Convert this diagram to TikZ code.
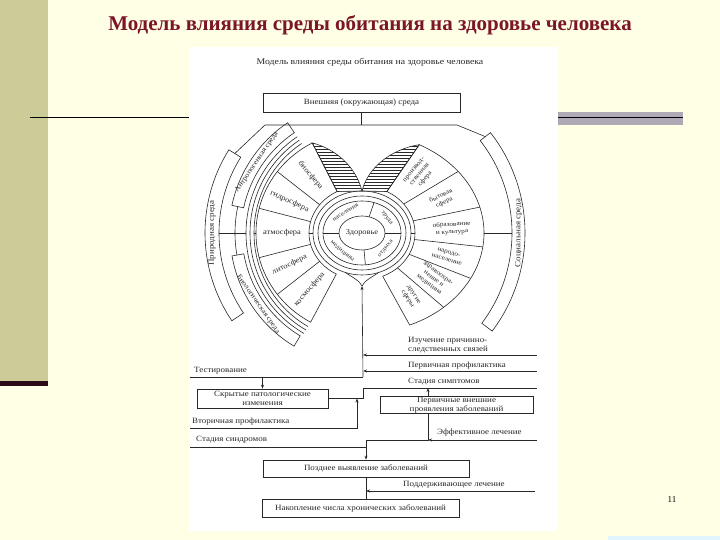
\documentclass[tikz,border=0pt]{standalone}
\usepackage{fontspec}
\setmainfont{Liberation Serif}
\newfontfamily\scanfont[FakeStretch=1.12]{Liberation Serif}
\usetikzlibrary{arrows.meta,patterns,calc}

\definecolor{slidebg}{RGB}{255,255,229}
\definecolor{sideband}{RGB}{204,204,153}
\definecolor{titlered}{RGB}{122,22,40}
\definecolor{darkbar}{RGB}{45,10,25}
\definecolor{graybar}{RGB}{176,168,180}
\definecolor{ink}{RGB}{40,40,40}

\tikzset{
  ln/.style={draw=ink, line width=0.6pt},
  arr/.style={ln, -{Stealth[length=4pt,width=3pt]}},
  box/.style={ln, font=\scanfont\fontsize{8}{8.5}\selectfont, text=ink, inner sep=0.5pt, align=center},
  lbl/.style={font=\scanfont\fontsize{8}{8.5}\selectfont, text=ink, inner sep=0pt, align=left},
  sect/.style={font=\scanfont\fontsize{7.5}{7.5}\selectfont, text=ink, inner sep=0pt, align=center},
  socsect/.style={font=\scanfont\fontsize{6.4}{7.4}\selectfont, text=ink, inner sep=0pt, align=center},
  ring/.style={font=\scanfont\fontsize{6}{6}\selectfont, text=ink, inner sep=0pt},
  band/.style={font=\scanfont\fontsize{7}{7}\selectfont, text=ink, inner sep=0pt},
}

\begin{document}
\begin{tikzpicture}[x=1pt,y=1pt]
\useasboundingbox (0,0) rectangle (720,540);
% slide
\fill[slidebg] (0,0) rectangle (720,540);
\fill[sideband] (0,159) rectangle (48,540);
\fill[darkbar] (0,154) rectangle (48,159);
\draw[black, line width=0.8pt] (30,423) -- (190,423);
\fill[graybar] (558,415) rectangle (683,428);
\draw[black, line width=0.8pt] (558,423) -- (683,423);
\fill[cyan!12] (608,0) rectangle (720,4);
\node[font=\fontsize{9}{10}\selectfont] (pgnum) at (672,40) {11};
\node[font=\bfseries\fontsize{21}{24}\selectfont, text=titlered] (title) at (370,515)
  {Модель влияния среды обитания на здоровье человека};

% scanned picture
\fill[white] (189,9) rectangle (558,493);
\node[font=\scanfont\fontsize{8.7}{9}\selectfont, text=ink] (subtitle) at (370,478)
  {Модель влияния среды обитания на здоровье человека};
\node[box, minimum width=197, minimum height=19] (env) at (361.5,437) {Внешняя (окружающая) среда};

\coordinate (C) at (362,307);
\begin{scope}[shift={(C)}]
  % hatched leaves
  \filldraw[ln, pattern=horizontal lines, pattern color=ink] (0,42) .. controls (-6,66) and (-26,84) .. (118:106 and 102) -- (118:53 and 47) -- cycle;
  \filldraw[ln, pattern=horizontal lines, pattern color=ink] (0,42) .. controls (6,66) and (30,84) .. (62:122 and 100) -- (62:53 and 47) -- cycle;
  % health core
  \draw[ln] (0,0) ellipse [x radius=23, y radius=17];
  \node[ring, font=\scanfont\fontsize{7.5}{7.5}\selectfont] (health) at (0,0) {Здоровье};
  \draw[ln] (0,0) ellipse [x radius=39, y radius=32];
  \draw[ln] (0,0) ellipse [x radius=44, y radius=37];
  \draw[ln] (0,0) ellipse [x radius=49, y radius=42];
  \foreach \a in {72,180,275,0}
    \draw[ln] (\a:23 and 17) -- (\a:39 and 32);
  \node[ring, rotate=32] (pop) at (122:31 and 24.5) {населения};
  \node[ring, rotate=-53] (work) at (37:31 and 24.5) {труда};
  \node[ring, rotate=-40] (med) at (230:31 and 24.5) {медицины};
  \node[ring, rotate=50] (rest) at (-40:31 and 24.5) {отдыха};

  % natural fan
  \draw[ln] (118:53 and 47) -- (118:106 and 102) arc[start angle=118, end angle=241, x radius=106, y radius=102]
    -- (241:53 and 47) arc[start angle=241, end angle=118, x radius=53, y radius=47];
  \foreach \a in {143,166,194,217}
    \draw[ln] (\a:53 and 47) -- (\a:106 and 102);
  \foreach \a/\t in {130/биосфера, 155/гидросфера, 180/атмосфера, 205/литосфера, 229/космосфера}
    \node[sect, rotate=\a-180] at (\a:80 and 75) {\t};

  % social fan
  \draw[ln] (62:53 and 47) -- (62:122 and 100) arc[start angle=62, end angle=-67, x radius=122, y radius=100]
    -- (-67:53 and 47) arc[start angle=-67, end angle=62, x radius=53, y radius=47];
  \foreach \a in {38,15,-8,-27,-48}
    \draw[ln] (\a:53 and 47) -- (\a:122 and 100);
  \foreach \a/\t in {50/{производ-\\ственная\\сфера}, 26.5/{бытовая\\сфера}, 3.5/{образование\\и культура},
                     -17.5/{народо-\\население}, -37.5/{здравоохра-\\нение и\\медицина}, -57.5/{другие\\сферы}}
    \node[socsect, rotate=\a] at (\a:90 and 76) {\t};

  % outer bands
  \draw[ln] (148:143) arc[start angle=148, end angle=214, radius=143] -- (214:157)
    arc[start angle=214, end angle=148, radius=157] -- cycle;
  \node[band, font=\scanfont\fontsize{8}{8}\selectfont, rotate=90] (nat) at (180:150) {Природная среда};
  \draw[ln] (124:121) arc[start angle=124, end angle=168, radius=121] -- (168:133)
    arc[start angle=168, end angle=124, radius=133] -- cycle;
  \node[band, rotate=56] (anthro) at (146:127) {Антропогенная среда};
  \draw[ln] (190:120) arc[start angle=190, end angle=239, radius=120] -- (239:132)
    arc[start angle=239, end angle=190, radius=132] -- cycle;
  \node[band, rotate=-55] (bio) at (214.5:126) {Биологическая среда};
  \foreach \r in {108,112,116}
    \draw[ln] (124:\r) arc[start angle=124, end angle=240, radius=\r];
  \draw[ln] (168:127) arc[start angle=168, end angle=190, radius=127];
  \draw[ln] (-49,0) -- (-53,0);
  \draw[ln] (-106,0) -- (-108,0);
  \draw[ln] (-116,0) -- (-143,0);
  \draw[ln] (-37:150) arc[start angle=-37, end angle=38, radius=150] -- (38:163)
    arc[start angle=38, end angle=-37, radius=163] -- cycle;
  \node[band, font=\scanfont\fontsize{8}{8}\selectfont, rotate=90] (soc) at (0:156.5) {Социальная среда};
  \draw[ln] (49,0) -- (53,0);
  \draw[ln] (122,0) -- (150,0);

  % lower cusp
  \coordinate (vtip) at (0,-53);
  \draw[ln] (250:49 and 42) .. controls (-10,-44) and (-2,-48) .. (vtip);
  \draw[ln] (-70:49 and 42) .. controls (10,-44) and (2,-48) .. (vtip);
  \coordinate (natTop) at (148:150);
  \coordinate (socTop) at (38:156.5);
\end{scope}

% from environment to both media
\coordinate (T0) at (361.5,415);
\coordinate (natBend) at (265,415);
\coordinate (socBend) at (457,415);
\draw[ln] (env.south) -- (T0);
\draw[ln] (T0) -- (natBend) -- (natTop);
\draw[ln] (T0) -- (socBend) -- (socTop);

% lower chain
\node[box, minimum width=131, minimum height=19] (hidden) at (262.5,141.5) {Скрытые патологические\\изменения};
\node[box, minimum width=153, minimum height=17] (primary) at (456.5,135) {Первичные внешние\\проявления заболеваний};
\node[box, minimum width=206, minimum height=17] (late) at (366,71.5) {Позднее выявление заболеваний};
\node[box, minimum width=197, minimum height=18] (chronic) at (360.5,32) {Накопление числа хронических заболеваний};

\coordinate (J1) at (363,163);
\draw[arr] (J1) -- (vtip);
\coordinate (causeR) at (537,185);
\draw[arr] (causeR) -- (causeR -| J1);
\node[lbl, anchor=south west] (causeT) at (408,187) {Изучение причинно-\\следственных связей};
\coordinate (prevR) at (537,169);
\draw[arr] (prevR) -- (prevR -| J1);
\node[lbl, anchor=south west] (prevT) at (408,171) {Первичная профилактика};
\coordinate (testL) at (190,163);
\draw[ln] (testL) -- (J1);
\node[lbl, anchor=south west] (testT) at (194,166) {Тестирование};
\draw[arr] (hidden.north |- testL) -- (hidden.north);

\coordinate (J2) at (363,152);
\coordinate (sympR) at (537,152);
\draw[ln] (hidden.east) -- (hidden.east -| J2) -- (J2) -- (sympR);
\node[lbl, anchor=south west] (sympT) at (408,155) {Стадия симптомов};
\coordinate (P1) at (428,152);
\draw[arr] (P1 |- primary.north) -- (P1);

\coordinate (secL) at (190,112);
\coordinate (J3) at (357,112);
\draw[arr] (secL) -- (J3) -- (J3 |- hidden.east);
\node[lbl, anchor=south west] (secT) at (192,115) {Вторичная профилактика};

\coordinate (J4) at (428,100);
\coordinate (J5) at (366,100);
\draw[ln] (primary.south -| J4) -- (J4) -- (J5);
\draw[arr] (J5) -- (late.north);
\coordinate (effR) at (537,100);
\draw[arr] (effR) -- (J4);
\node[lbl, anchor=south west] (effT) at (437,104) {Эффективное лечение};

\coordinate (synL) at (190,93);
\draw[ln] (synL) -- (synL -| J5);
\node[lbl, anchor=south west] (synT) at (196,97) {Стадия синдромов};

\draw[ln] (late.south) -- (late.south |- chronic.north);
\coordinate (supR) at (535,49);
\draw[arr] (supR) -- (supR -| late.south);
\node[lbl, anchor=south west] (supT) at (403,52) {Поддерживающее лечение};
\end{tikzpicture}
\end{document}
